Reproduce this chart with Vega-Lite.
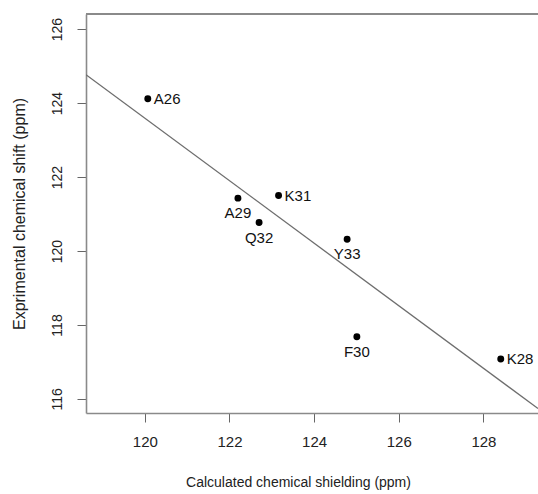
{
  "$schema": "https://vega.github.io/schema/vega-lite/v6.json",
  "autosize": {"type": "none"},
  "padding": {"left": 86, "top": 14, "right": 0, "bottom": 81},
  "width": 452,
  "height": 399,
  "background": "white",
  "config": {
    "view": {"stroke": null},
    "font": "Liberation Sans",
    "axis": {
      "labelFont": "Liberation Sans",
      "titleFont": "Liberation Sans",
      "labelFontSize": 15,
      "titleFontSize": 14,
      "titleFontWeight": "normal",
      "labelColor": "#222",
      "titleColor": "#222",
      "grid": false,
      "domainColor": "#8a8a8a",
      "domainWidth": 1.6,
      "tickColor": "#666",
      "tickSize": 9,
      "tickWidth": 1
    }
  },
  "data": {
    "values": [
      {"residue": "A26", "calc": 120.07, "expt": 124.12},
      {"residue": "K28", "calc": 128.41, "expt": 117.08},
      {"residue": "A29", "calc": 122.20, "expt": 121.43},
      {"residue": "F30", "calc": 125.01, "expt": 117.68},
      {"residue": "K31", "calc": 123.16, "expt": 121.50},
      {"residue": "Q32", "calc": 122.70, "expt": 120.77},
      {"residue": "Y33", "calc": 124.78, "expt": 120.32}
    ]
  },
  "encoding": {
    "x": {
      "field": "calc",
      "type": "quantitative",
      "scale": {"domain": [118.61, 129.29], "zero": false, "nice": false},
      "axis": {
        "title": "Calculated chemical shielding (ppm)",
        "values": [120, 122, 124, 126, 128],
        "labelPadding": 12,
        "titlePadding": 26,
        "titleX": 212
      }
    },
    "y": {
      "field": "expt",
      "type": "quantitative",
      "scale": {"domain": [115.62, 126.41], "zero": false, "nice": false},
      "axis": {
        "title": "Exprimental chemical shift (ppm)",
        "titleFontSize": 16,
        "labelFontSize": 14,
        "values": [116, 118, 120, 122, 124, 126],
        "labelAngle": -90,
        "labelAlign": "center",
        "labelBaseline": "bottom",
        "labelPadding": 13,
        "titlePadding": 23
      }
    }
  },
  "layer": [
    {
      "mark": {"type": "rule", "color": "#8a8a8a", "strokeWidth": 1.6},
      "encoding": {
        "x": {"value": 0},
        "x2": {"value": 452},
        "y": {"value": 0}
      }
    },
    {
      "transform": [
        {"regression": "expt", "on": "calc", "extent": [118.61, 129.29]}
      ],
      "mark": {"type": "line", "color": "#6e6e6e", "strokeWidth": 1.3, "clip": true}
    },
    {
      "mark": {"type": "circle", "color": "black", "opacity": 1, "size": 48}
    },
    {
      "transform": [{"filter": {"field": "residue", "oneOf": ["A26", "K31", "K28"]}}],
      "mark": {"type": "text", "align": "left", "baseline": "middle", "dx": 6, "fontSize": 15, "color": "#111"},
      "encoding": {"text": {"field": "residue"}}
    },
    {
      "transform": [{"filter": {"field": "residue", "oneOf": ["A29", "F30", "Q32", "Y33"]}}],
      "mark": {"type": "text", "align": "center", "baseline": "top", "dy": 8, "fontSize": 15, "color": "#111"},
      "encoding": {"text": {"field": "residue"}}
    }
  ]
}
